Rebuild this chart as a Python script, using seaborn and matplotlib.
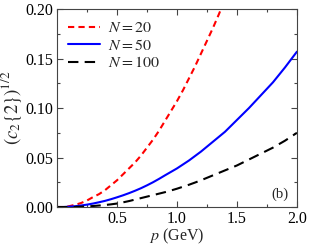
import numpy as np
import pandas as pd
import matplotlib
matplotlib.use("Agg")
import matplotlib.pyplot as plt
import seaborn as sns
from matplotlib.ticker import MultipleLocator, FormatStrFormatter

# values (p in GeV)
p_vals = [0.0, 0.05, 0.1, 0.15, 0.2, 0.25, 0.3, 0.35, 0.4, 0.45, 0.5,
          0.55, 0.6, 0.65, 0.7, 0.75, 0.8, 0.85, 0.9, 0.95, 1.0,
          1.05, 1.1, 1.15, 1.2, 1.25, 1.3, 1.35, 1.4, 1.45, 1.5,
          1.55, 1.6, 1.65, 1.7, 1.75, 1.8, 1.85, 1.9, 1.95, 2.0]
v_n20 = [0.0, 0.0, 0.0008, 0.0022, 0.004, 0.0066, 0.010, 0.013, 0.017, 0.022, 0.027,
         0.033, 0.039, 0.045, 0.052, 0.060, 0.068, 0.077, 0.087, 0.097, 0.107,
         0.118, 0.130, 0.142, 0.155, 0.168, 0.181, 0.195, 0.210, 0.225, 0.240,
         0.256, 0.272, 0.289, 0.306, 0.324, 0.342, 0.361, 0.380, 0.400, 0.420]
v_n50 = [0.0, 0.0, 0.0003, 0.0008, 0.0015, 0.0024, 0.0035, 0.0048, 0.0062, 0.0079, 0.0098,
         0.0118, 0.014, 0.0164, 0.019, 0.0219, 0.025, 0.0284, 0.032, 0.0355, 0.039,
         0.043, 0.047, 0.0515, 0.056, 0.061, 0.066, 0.071, 0.076, 0.082, 0.088,
         0.094, 0.100, 0.1065, 0.113, 0.1195, 0.126, 0.1335, 0.141, 0.149, 0.157]
v_n100 = [0.0, 0.0, 0.0, 0.0001, 0.0003, 0.0006, 0.001, 0.0015, 0.002, 0.0027, 0.0035,
          0.0047, 0.006, 0.0075, 0.009, 0.0105, 0.012, 0.0135, 0.015, 0.0167, 0.0185,
          0.0205, 0.0225, 0.0247, 0.027, 0.0295, 0.032, 0.0345, 0.037, 0.0395, 0.042,
          0.045, 0.048, 0.051, 0.054, 0.057, 0.060, 0.0635, 0.067, 0.071, 0.075]
labels = ["$N=20$", "$N=50$", "$N=100$"]
colors = ["red", "blue", "black"]

sns.set_theme(style="ticks")
plt.rcParams['font.family'] = ['Liberation Serif', 'DejaVu Serif']
plt.rcParams['mathtext.fontset'] = 'stix'

fig = plt.figure(figsize=(3.09, 2.46), dpi=100)
ax = fig.add_axes([0.1845, 0.1585, 0.7765, 0.8045])

dash_styles = [(3, 2), "", (5, 3)]
for vals, lab, col, ds in zip([v_n20, v_n50, v_n100], labels, colors, dash_styles):
    sns.lineplot(x=p_vals, y=vals, ax=ax, color=col, linewidth=1.5, label=lab)
    if ds:
        ax.lines[-1].set_dashes(ds)

ax.set_xlim(0, 2.0)
ax.set_ylim(0, 0.20)
ax.set_xticks([0.5, 1.0, 1.5, 2.0])
ax.set_yticks([0.0, 0.05, 0.10, 0.15, 0.20])
ax.xaxis.set_minor_locator(MultipleLocator(0.25))
ax.yaxis.set_minor_locator(MultipleLocator(0.025))
ax.yaxis.set_major_formatter(FormatStrFormatter('%.2f'))
ax.xaxis.set_major_formatter(FormatStrFormatter('%.1f'))
ax.tick_params(which='both', direction='in', top=True, right=True,
               labelsize=11.5, colors='#444444', labelcolor='black', pad=3)
ax.tick_params(which='major', length=4, width=0.8)
ax.tick_params(which='minor', length=2, width=0.8)
for s in ax.spines.values():
    s.set_color('#444444')
    s.set_linewidth(0.8)

ax.set_xlabel("$p$ (GeV)", fontsize=11.5, labelpad=0)
ax.set_ylabel(r"$(c_2\{2\})^{1/2}$", fontsize=13.5, labelpad=1)
ax.text(0.93, 0.065, "(b)", transform=ax.transAxes, fontsize=10.5, ha='center', va='center')

ax.legend(loc='upper left', frameon=False, fontsize=11.5, handlelength=2.0,
          borderaxespad=0.3, labelspacing=0.1, handletextpad=0.5)

fig.savefig("out.png", dpi=100)
